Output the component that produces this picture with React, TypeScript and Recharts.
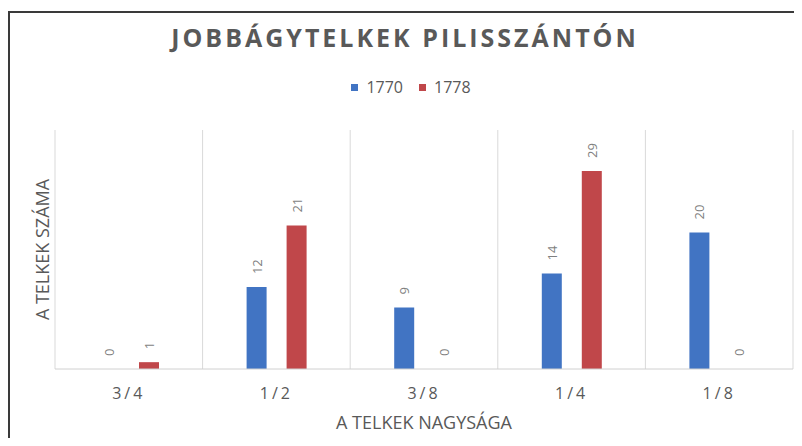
import React from 'react';
import { BarChart, Bar, XAxis, YAxis, CartesianGrid, LabelList, Label } from 'recharts';

const categories = ['3/4', '1/2', '3/8', '1/4', '1/8'];
const values1770 = [0, 12, 9, 14, 20];
const values1778 = [1, 21, 0, 29, 0];
const seriesNames = ['1770', '1778'];
const colors = ['#4174C3', '#C0474A'];

const data = categories.map((c, i) => ({
  name: c,
  y1770: values1770[i],
  y1778: values1778[i],
}));

const FONT = '"Open Sans", sans-serif';

function ValueLabel(props: any) {
  const { x, y, width, value } = props;
  const cx = Number(x) + Number(width) / 2;
  const cy = Number(y) - 13;
  return (
    <text
      x={cx}
      y={cy}
      transform={`rotate(-90 ${cx} ${cy})`}
      textAnchor="start"
      dominantBaseline="central"
      fill="#7F7F7F"
      fontSize={13}
      fontFamily={FONT}
    >
      {String(value)}
    </text>
  );
}

export default function App() {
  return (
    <div style={{ position: 'relative', width: 802, height: 446, margin: -8, background: '#fff', overflow: 'hidden', fontFamily: FONT }}>
      {/* frame: only top and left edges are visible in the crop */}
      <div style={{ position: 'absolute', left: 8, top: 11, width: 820, height: 460, borderTop: '2px solid #3a3a3a', borderLeft: '2px solid #3a3a3a' }} />
      <div style={{ position: 'absolute', left: 0, top: 20, width: 810, textAlign: 'center', fontSize: 25, fontWeight: 700, letterSpacing: 3, color: '#595959' }}>
        JOBBÁGYTELKEK PILISSZÁNTÓN
      </div>
      <div style={{ position: 'absolute', left: 0, top: 76, width: 822, display: 'flex', justifyContent: 'center', alignItems: 'center', fontSize: 16, color: '#595959' }}>
        {seriesNames.map((s, i) => (
          <div key={s} style={{ display: 'flex', alignItems: 'center', marginRight: i === 0 ? 16 : 0 }}>
            <span style={{ display: 'inline-block', width: 7, height: 7, background: colors[i], marginRight: 8 }} />
            <span>{s}</span>
          </div>
        ))}
      </div>
      <div style={{ position: 'absolute', left: 0, top: 0 }}>
        <BarChart width={802} height={446} data={data} margin={{ top: 130, right: 9, bottom: 0, left: 30 }} barSize={20} barGap={20}>
          <CartesianGrid
            horizontal={false}
            stroke="#D9D9D9"
            verticalCoordinatesGenerator={({ offset }: any) =>
              categories.map((_, i) => offset.left + (i * offset.width) / categories.length).concat(offset.left + offset.width)
            }
          />
          <XAxis
            dataKey="name"
            axisLine={{ stroke: '#D0D0D0' }}
            tickLine={false}
            tickSize={0}
            tickMargin={19}
            height={77}
            tick={{ fill: '#595959', fontSize: 16, fontFamily: FONT, letterSpacing: 3 }}
          >
            <Label value="A TELKEK NAGYSÁGA" position="insideBottom" offset={17} fill="#595959" fontSize={18} fontFamily={FONT} />
          </XAxis>
          <YAxis domain={[0, 35]} tick={false} axisLine={false} tickLine={false} width={25}>
            <Label value="A TELKEK SZÁMA" angle={-90} position="center" fill="#595959" fontSize={18} fontFamily={FONT} />
          </YAxis>
          <Bar dataKey="y1770" name={seriesNames[0]} fill={colors[0]} minPointSize={0.01} isAnimationActive={false}>
            <LabelList dataKey="y1770" content={ValueLabel} />
          </Bar>
          <Bar dataKey="y1778" name={seriesNames[1]} fill={colors[1]} minPointSize={0.01} isAnimationActive={false}>
            <LabelList dataKey="y1778" content={ValueLabel} />
          </Bar>
        </BarChart>
      </div>
    </div>
  );
}
